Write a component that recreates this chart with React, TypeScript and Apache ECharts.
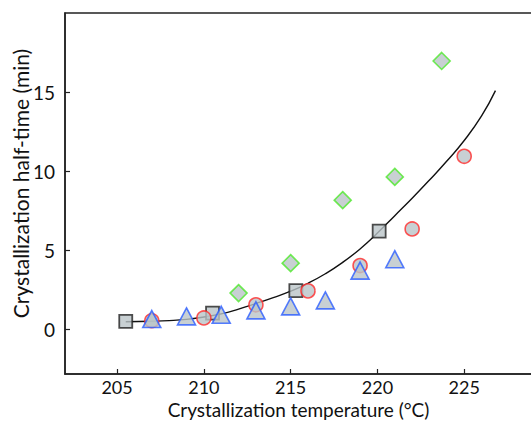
import React, { useEffect, useRef } from "react";
import * as echarts from "echarts";

// Fitted curve
const curveT = [205.5, 207, 208, 209, 210, 211, 212, 213, 214, 215, 216, 217, 218, 219, 220, 221, 222, 223, 224, 225, 226, 226.8];
const curveY = [0.5, 0.53, 0.57, 0.65, 0.8, 1.0, 1.3, 1.65, 2.02, 2.43, 2.93, 3.53, 4.25, 5.1, 6.1, 7.2, 8.3, 9.45, 10.65, 11.95, 13.5, 15.1];

// Squares
const squareT = [205.5, 210.5, 215.3, 220.1];
const squareY = [0.52, 1.05, 2.47, 6.23];

// Circles
const circleT = [207, 210, 213, 216, 219, 222, 225];
const circleY = [0.57, 0.74, 1.57, 2.45, 4.05, 6.36, 10.95];

// Triangles
const triT = [207, 209, 211, 213, 215, 217, 219, 221];
const triY = [0.67, 0.84, 0.94, 1.22, 1.47, 1.85, 3.73, 4.45];

// Diamonds
const diaT = [212, 215, 218, 221, 223.7];
const diaY = [2.31, 4.2, 8.18, 9.65, 16.97];

const xTicks = [205, 210, 215, 220, 225];
const yTicks = [0, 5, 10, 15];

const zip = (a: number[], b: number[]) => a.map((v, i) => [v, b[i]]);

const FILL = "#bac4c8";
const FONT = "Lato";

export default function App() {
  const ref = useRef<HTMLDivElement>(null);
  useEffect(() => {
    if (!ref.current) return;
    const chart = echarts.init(ref.current, null, { renderer: "svg" });
    chart.setOption({
      animation: false,
      backgroundColor: "#ffffff",
      grid: {
        left: 65,
        top: 13,
        right: 0,
        bottom: 47,
        containLabel: false,
        outerBoundsMode: "none",
        show: true,
        borderColor: "#222",
        borderWidth: 1.5,
        backgroundColor: "transparent",
      },
      xAxis: {
        type: "value",
        min: 202,
        max: 230,
        name: "Crystallization temperature (°C)",
        nameLocation: "middle",
        nameGap: 27,
        nameMoveOverlap: false,
        nameTextStyle: { fontFamily: FONT, fontSize: 19, lineHeight: 17, color: "#111", padding: [0, 19, 0, 0] },
        axisLine: { show: true, onZero: false, lineStyle: { color: "#222", width: 1.5 } },
        axisTick: { show: true, inside: true, length: 5, customValues: xTicks, lineStyle: { color: "#222", width: 1.2 } },
        axisLabel: { customValues: xTicks, fontFamily: FONT, fontSize: 18, lineHeight: 14, color: "#111", margin: 6 },
        splitLine: { show: false },
      },
      yAxis: {
        type: "value",
        min: -2.8,
        max: 20,
        name: "Crystallization half-time (min)",
        nameLocation: "middle",
        nameGap: 34,
        nameMoveOverlap: false,
        nameTextStyle: { fontFamily: FONT, fontSize: 21, color: "#111", padding: [0, 0, 0, 20] },
        axisLine: { show: true, onZero: false, lineStyle: { color: "#222", width: 1.5 } },
        axisTick: { show: true, inside: true, length: 5, customValues: yTicks, lineStyle: { color: "#222", width: 1.2 } },
        axisLabel: { customValues: yTicks, fontFamily: FONT, fontSize: 19, color: "#111", margin: 10 },
        splitLine: { show: false },
      },
      series: [
        {
          type: "line",
          data: zip(curveT, curveY),
          smooth: 0.5,
          showSymbol: false,
          lineStyle: { color: "#111", width: 1.4 },
          z: 1,
        },
        {
          type: "scatter",
          data: zip(squareT, squareY),
          symbol: "rect",
          symbolSize: 13,
          itemStyle: { color: FILL, borderColor: "#222", borderWidth: 1.8 },
          z: 2,
        },
        {
          type: "scatter",
          data: zip(circleT, circleY),
          symbol: "circle",
          symbolSize: 14,
          itemStyle: { color: FILL, borderColor: "#ff2a2a", borderWidth: 1.6 },
          z: 3,
        },
        {
          type: "scatter",
          data: zip(triT, triY),
          symbol: "triangle",
          symbolSize: [18, 17],
          itemStyle: { color: FILL, borderColor: "#2a5cff", borderWidth: 1.6 },
          z: 4,
        },
        {
          type: "scatter",
          data: zip(diaT, diaY),
          symbol: "diamond",
          symbolSize: 17,
          itemStyle: { color: FILL, borderColor: "#4de82a", borderWidth: 1.6 },
          z: 5,
        },
      ],
    });
    return () => chart.dispose();
  }, []);
  return (
    <div style={{ position: "fixed", left: 0, top: 0, width: 531, height: 421, overflow: "hidden", background: "#fff" }}>
      <div ref={ref} style={{ position: "absolute", left: 0, top: 0, width: 551, height: 421 }} />
    </div>
  );
}
